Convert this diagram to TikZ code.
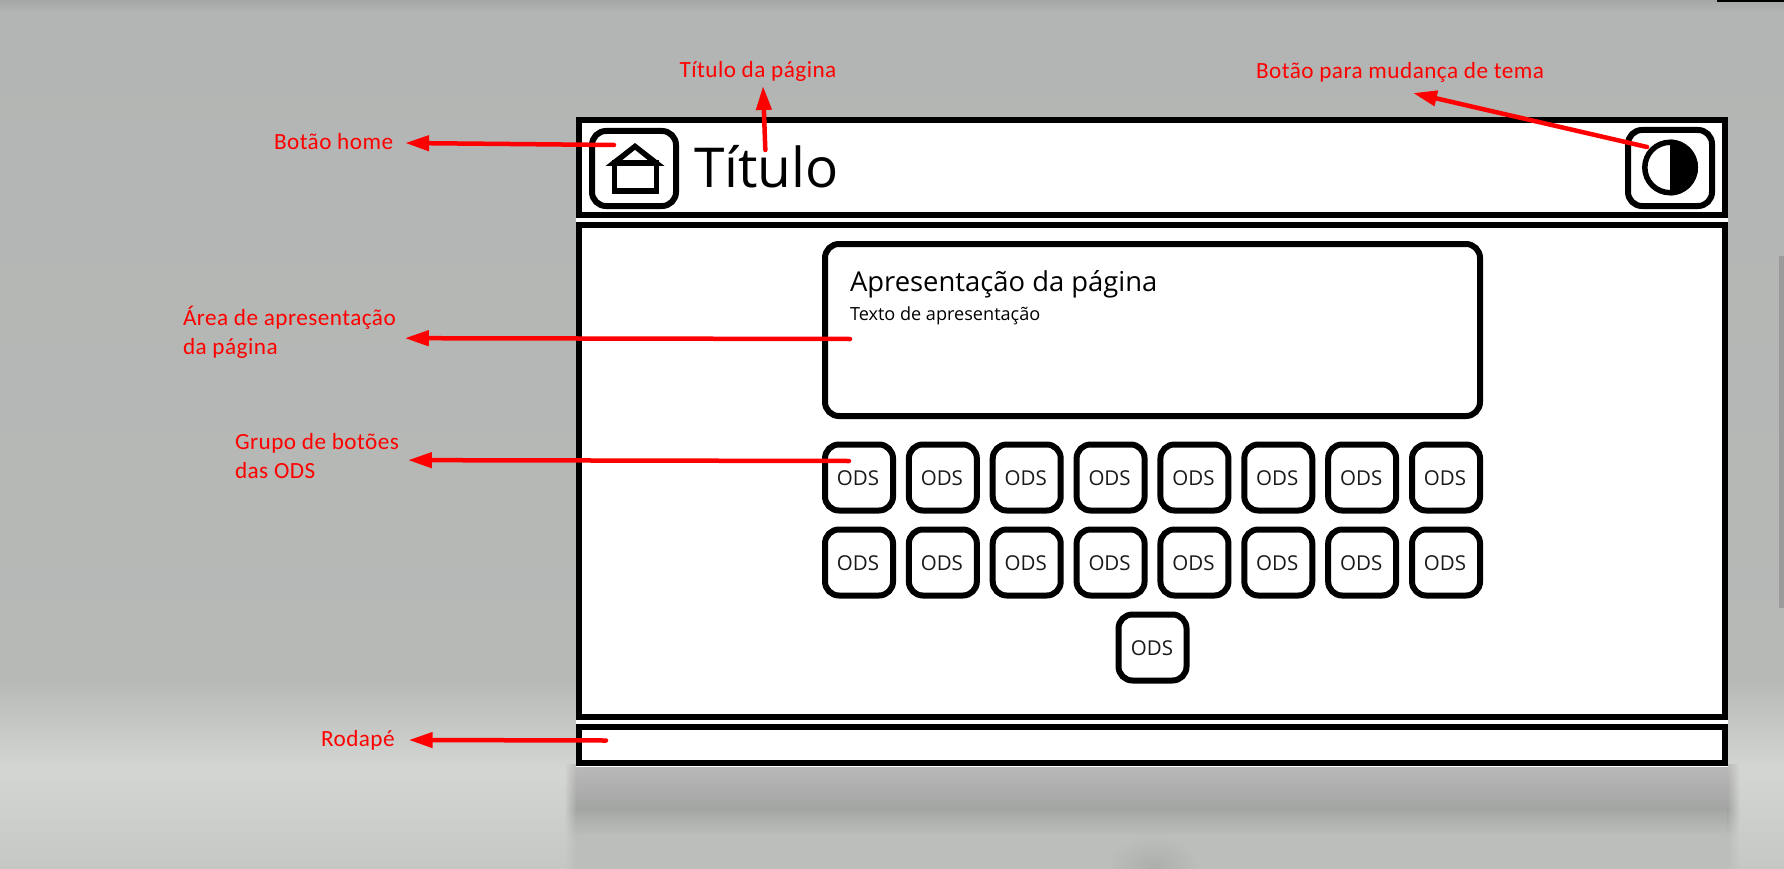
\documentclass[tikz,border=0pt]{standalone}
\usepackage{fontspec}
\setmainfont{Open Sans}
\newfontfamily\redfont[LetterSpace=2.0]{Carlito}
\usetikzlibrary{arrows.meta,calc}
\definecolor{bgtop}{HTML}{A5A7A6}
\definecolor{bgmid}{HTML}{B3B5B4}
\definecolor{bgdown}{HTML}{B7B9B7}
\definecolor{bglight}{HTML}{D4D6D3}
\definecolor{bgend}{HTML}{C5C7C4}
\definecolor{bandA}{HTML}{B9BAB9}
\definecolor{bandB}{HTML}{A3A5A3}
\definecolor{bandC}{HTML}{BCBEBC}
\definecolor{scrollc}{HTML}{9A9B9A}
\definecolor{annot}{HTML}{FF0000}
\tikzset{
  panel/.style={draw=black,fill=white,line width=6pt,rectangle,inner sep=0pt,outer sep=0pt},
  roundbox/.style={panel,rounded corners=14pt},
  odsbox/.style={roundbox,minimum width=68pt,minimum height=66pt},
  odstext/.style={inner sep=0pt,outer sep=0pt,font=\fontsize{20.5}{24}\selectfont,text=black!90},
  annotlabel/.style={inner sep=0pt,outer sep=0pt,text=annot,font=\redfont\fontsize{23.2}{29}\selectfont,align=left},
  arr/.style={draw=annot,line width=4.5pt,line cap=round,-{Triangle[length=24pt,width=15pt]}},
}
\begin{document}
\begin{tikzpicture}[x=1pt,y=-1pt]
\useasboundingbox (0,0) rectangle (1784,869);
% background
\fill[top color=bgtop,bottom color=bgmid] (0,0) rectangle (1784,12);
\fill[top color=bgmid,bottom color=bgdown] (0,11.5) rectangle (1784,680);
\fill[top color=bgdown,bottom color=bglight] (0,679.5) rectangle (1784,770);
\fill[top color=bglight,bottom color=bgend] (0,769.5) rectangle (1784,869);
% reflection below the page
\fill[top color=bandA,bottom color=bandB] (576,764) rectangle (1728,808);
\fill[top color=bandB,bottom color=bandC] (576,807.5) rectangle (1728,835);
\fill[bandC] (576,834.5) rectangle (1728,869);
% soft side edges of the reflection
\foreach \yy in {764,768,...,868}{
  \pgfmathsetmacro{\tb}{\yy<808 ? 100-(\yy-764)/44*100 : (\yy<835 ? (\yy-808)/27*100 : 100)}
  \ifdim\yy pt<808pt
    \colorlet{bandnow}{bandA!\tb!bandB}
  \else
    \colorlet{bandnow}{bandC!\tb!bandB}
  \fi
  \pgfmathsetmacro{\tg}{\yy<770 ? 100 : 100-(\yy-770)/99*100}
  \colorlet{bgnow}{bglight!\tg!bgend}
  \fill[left color=bgnow,right color=bandnow] (564,\yy) rectangle (576.3,\yy+4.3);
  \fill[left color=bandnow,right color=bgnow] (1727.7,\yy) rectangle (1740,\yy+4.3);
}
\shade[inner color=bandB!60!bandC,outer color=bandC] (1153,866) ellipse (46 and 30);
% scrollbar, window edge
\fill[scrollc] (1779,255.5) rectangle (1784,608);
\fill[black] (1717,0) rectangle (1784,2.5);
% page
\fill[white] (576,117.5) rectangle (1728,766.5);
\node[panel,minimum width=1146pt,minimum height=94.5pt] (header) at (1152,167.75) {};
\node[panel,minimum width=1146pt,minimum height=492pt] (main) at (1152,471) {};
\node[panel,minimum width=1146pt,minimum height=36pt] (footer) at (1152,745) {};
% home button
\node[roundbox,minimum width=84pt,minimum height=75pt] (btnHome) at (634,168.5) {};
\fill[black] (635,143) -- (605.5,166) -- (664.5,166) -- cycle;
\fill[white] (635,150) -- (622.5,160) -- (647.5,160) -- cycle;
\draw[black,line width=5.5pt,fill=white] (614.7,163) rectangle (656.3,191);
% title
\node[inner sep=0pt,outer sep=0pt,anchor=base west,font=\fontsize{55}{60}\selectfont] (title) at (694,187) {Título};
% theme button
\node[roundbox,minimum width=84pt,minimum height=76pt] (btnTheme) at (1670,168) {};
\fill[black] (1670,195.5) arc[start angle=90,end angle=-90,radius=28] -- cycle;
\draw[black,line width=5.5pt] (1670,167.5) circle (25.2);
% presentation
\node[roundbox,minimum width=655pt,minimum height=172pt] (present) at (1152.5,330) {};
\node[inner sep=0pt,outer sep=0pt,anchor=base west,font=\fontsize{27.4}{32}\selectfont] (ptitle) at (850,291) {Apresentação da página};
\node[inner sep=0pt,outer sep=0pt,anchor=base west,font=\fontsize{18.1}{22}\selectfont] (ptext) at (850,320) {Texto de apresentação};
% ODS buttons
\foreach \i in {0,...,7}{
  \pgfmathsetmacro{\cx}{859+83.86*\i}
  \pgfmathsetmacro{\tx}{\cx-1}
  \pgfmathtruncatemacro{\na}{\i+1}
  \pgfmathtruncatemacro{\nb}{\i+9}
  \node[odsbox] (ods\na) at (\cx,477.5) {};
  \node[odstext,anchor=base] (odst\na) at (\tx,485) {ODS};
  \node[odsbox] (ods\nb) at (\cx,562.5) {};
  \node[odstext,anchor=base] (odst\nb) at (\tx,570.5) {ODS};
}
\node[odsbox] (ods17) at (1152.5,647.5) {};
\node[odstext,anchor=base] (odst17) at (1152,655) {ODS};
% annotation labels
\node[annotlabel,anchor=base west] (lblHome) at (274,150) {Botão home};
\node[annotlabel,anchor=base] (lblTitle) at (758,78) {Título da página};
\node[annotlabel,anchor=base] (lblTheme) at (1400,78.5) {Botão para mudança de tema};
\node[annotlabel,anchor=north west] (lblArea) at (183,306) {Área de apresentação\\da página};
\node[annotlabel,anchor=north west] (lblGroup) at (235,433.5) {Grupo de botões\\das ODS};
\node[annotlabel,anchor=base west] (lblFooter) at (321,746) {Rodapé};
% connectors
\draw[arr] ($(btnHome.center)+(-20,-23.5)$) -- ($(lblHome.base east)+(12,-7)$);
\draw[arr] ($(title.base)+(-1,-37)$) -- ($(lblTitle.base)+(5,8)$);
\draw[arr] ($(btnTheme.center)+(-23,-21)$) -- ($(lblTheme.base)+(13,14.5)$);
\draw[arr] ($(present.west)+(25,9)$) -- ($(lblArea.east)+(9,6)$);
\draw[arr] ($(ods1.center)+(-10,-16.5)$) -- ($(lblGroup.east)+(9,4)$);
\draw[arr] ($(footer.west)+(27,-4.5)$) -- ($(lblFooter.base east)+(14,-6)$);
\end{tikzpicture}
\end{document}
